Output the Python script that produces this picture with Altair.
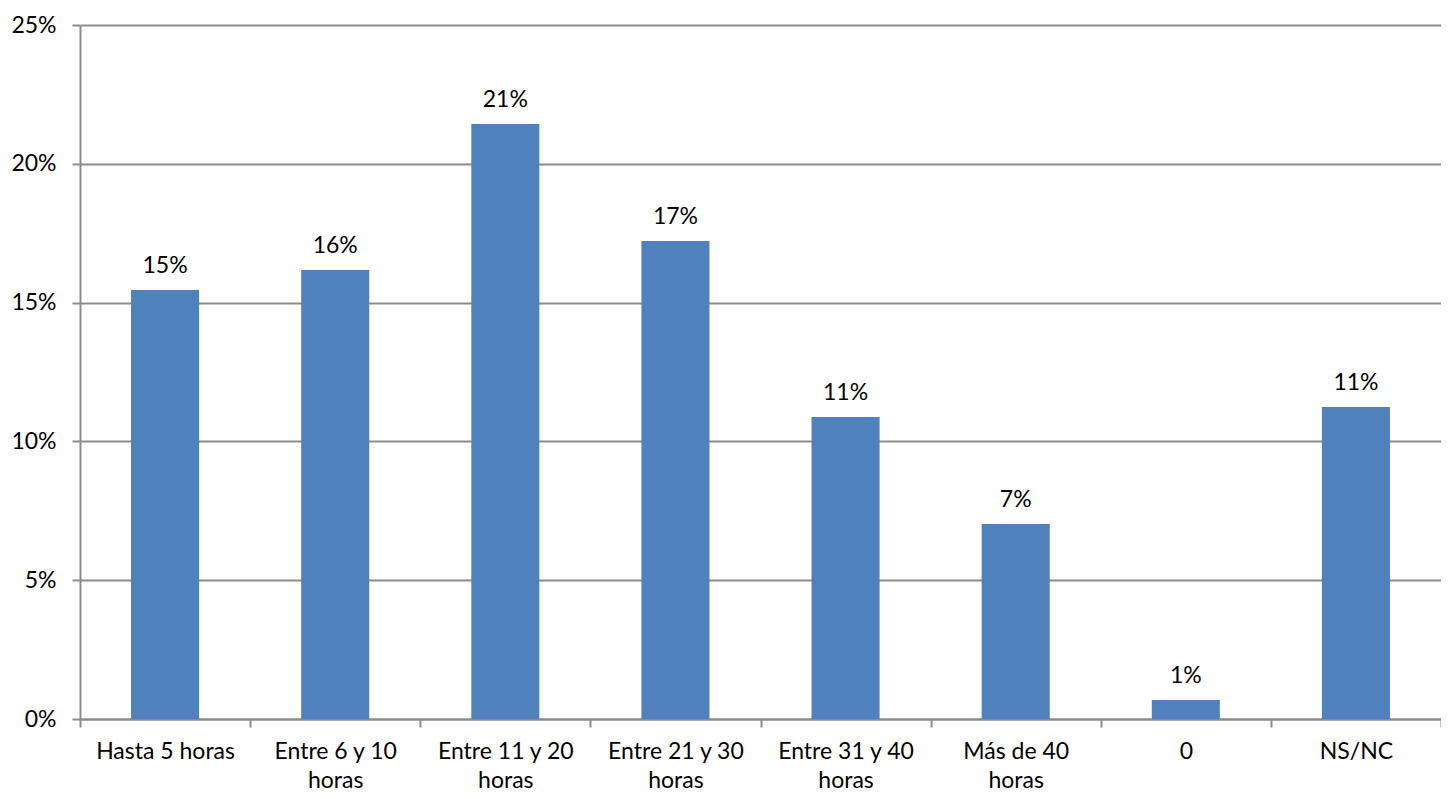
import altair as alt
import pandas as pd

categories = ["Hasta 5 horas", "Entre 6 y 10 horas", "Entre 11 y 20 horas", "Entre 21 y 30 horas",
              "Entre 31 y 40 horas", "Más de 40 horas", "0", "NS/NC"]
axis_labels = ["Hasta 5 horas", "Entre 6 y 10|horas", "Entre 11 y 20|horas", "Entre 21 y 30|horas",
               "Entre 31 y 40|horas", "Más de 40|horas", "0", "NS/NC"]
values = [0.1545, 0.1617, 0.2143, 0.1722, 0.1088, 0.0702, 0.0068, 0.1124]
y_ticks = [0, 0.05, 0.10, 0.15, 0.20, 0.25]

df = pd.DataFrame({"cat": categories, "value": values})

label_map = "{" + ",".join(f"'{c}':'{l}'" for c, l in zip(categories, axis_labels)) + "}"

FONT = "Lato"
FS = 23
GRAY = "#8c8c8c"

x = alt.X("cat:N", sort=categories, title=None,
          scale=alt.Scale(paddingInner=0, paddingOuter=0),
          axis=alt.Axis(labelAngle=0, labelFontSize=FS, labelFont=FONT, labelColor="#000000",
                        labelExpr=f"isValid({label_map}[datum.label]) ? split({label_map}[datum.label], '|') : ''",
                        labelLineHeight=29, labelPadding=13, tickBand="extent",
                        tickSize=8, tickColor=GRAY, domainColor=GRAY,
                        tickWidth=2, domainWidth=2, grid=False, labelBaseline="top"))
y = alt.Y("value:Q", title=None,
          scale=alt.Scale(domain=[0, 0.25], nice=False),
          axis=alt.Axis(format=".0%", values=y_ticks,
                        labelFontSize=FS, labelFont=FONT, labelColor="#000000",
                        labelPadding=16, tickSize=8, tickColor=GRAY, tickWidth=2,
                        domainColor=GRAY, domainWidth=2, gridColor=GRAY, gridWidth=2))

base = alt.Chart(df).encode(x=x, y=y)
bars = base.mark_bar(color="#4f81bd", width=alt.RelativeBandSize(0.4))
text = base.mark_text(dy=-17, baseline="alphabetic", fontSize=FS, font=FONT, color="#000000").encode(
    text=alt.Text("value:Q", format=".0%"))

chart = (bars + text).properties(
    width=1361, height=694,
    autosize=alt.AutoSizeParams(type="none"),
    padding={"left": 72, "top": 17, "right": 0, "bottom": 72},
).configure_view(stroke=None).configure(background="white")

chart.save("out.html", embed_options={"renderer": "svg", "actions": False})
